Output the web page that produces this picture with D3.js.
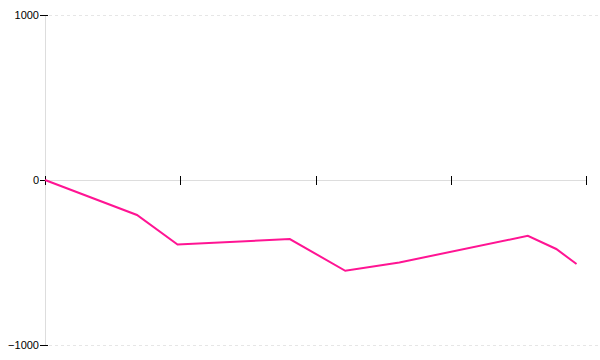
<!DOCTYPE html>
<html>
<head>
<meta charset="utf-8">
<script src="https://cdn.jsdelivr.net/npm/d3@7"></script>
<style>
  body { margin: 0; background: #fff; }
  svg { font-family: "Liberation Sans", Arial, sans-serif; }
</style>
</head>
<body>
<svg id="chart" width="600" height="360"></svg>
<script>
// series values
let xs = [0, 6.8, 9.8, 18.1, 22.2, 26.2, 35.7, 37.8, 39.3];
let ys = [0, -212, -391, -358, -550, -500, -338, -418, -509];
let xTicks = [0, 10, 20, 30, 40];
let yTicks = [-1000, 0, 1000];

window.addEventListener('load', () => {
    let svg = d3.select("svg#chart")
    let margin = { left: 45, right: 14, top: 15, bottom: 15 }
    let w = 600 - margin.left - margin.right
    let h = 360 - margin.top - margin.bottom

    let x = d3.scaleLinear().domain([0, 40]).range([margin.left, margin.left + w])
    let y = d3.scaleLinear().domain([-1000, 1000]).range([margin.top + h, margin.top])

    // dotted grid at +/-1000
    svg.append("g").selectAll("line")
        .data(yTicks.filter(d => d !== 0))
        .join("line")
        .attr("x1", x(0) + 4).attr("x2", 600)
        .attr("y1", d => y(d) + 0.5).attr("y2", d => y(d) + 0.5)
        .attr("stroke", "#e6e6e6")
        .attr("stroke-dasharray", "3,3")

    // y axis line (light)
    svg.append("line")
        .attr("x1", x(0) + 0.5).attr("x2", x(0) + 0.5)
        .attr("y1", y(1000)).attr("y2", y(-1000))
        .attr("stroke", "#ddd")

    // x axis line at zero
    svg.append("line")
        .attr("x1", x(0)).attr("x2", x(40))
        .attr("y1", y(0) + 0.5).attr("y2", y(0) + 0.5)
        .attr("stroke", "#ddd")

    // y ticks + labels
    let yAxis = svg.append("g")
    yAxis.selectAll("line")
        .data(yTicks)
        .join("line")
        .attr("x1", x(0) - 5).attr("x2", x(0) + 3)
        .attr("y1", d => y(d) + 0.5).attr("y2", d => y(d) + 0.5)
        .attr("stroke", "#000")
    yAxis.selectAll("text")
        .data(yTicks)
        .join("text")
        .attr("x", x(0) - 6)
        .attr("y", d => y(d))
        .attr("dy", "0.35em")
        .attr("text-anchor", "end")
        .attr("font-size", 11)
        .attr("fill", "#000")
        .text(d => d3.format("")(d).replace("-", "\u2212"))

    // x ticks crossing the zero line
    svg.append("g").selectAll("line")
        .data(xTicks)
        .join("line")
        .attr("x1", d => Math.round(x(d)) + 0.5).attr("x2", d => Math.round(x(d)) + 0.5)
        .attr("y1", y(0) - 4).attr("y2", y(0) + 5)
        .attr("stroke", "#000")

    // the series
    let line = d3.line()
        .x((d, i) => x(xs[i]))
        .y(d => y(d))
    svg.append("path")
        .datum(ys)
        .attr("d", line)
        .attr("fill", "none")
        .attr("stroke", "#ff1493")
        .attr("stroke-width", 2)
})
</script>
</body>
</html>
